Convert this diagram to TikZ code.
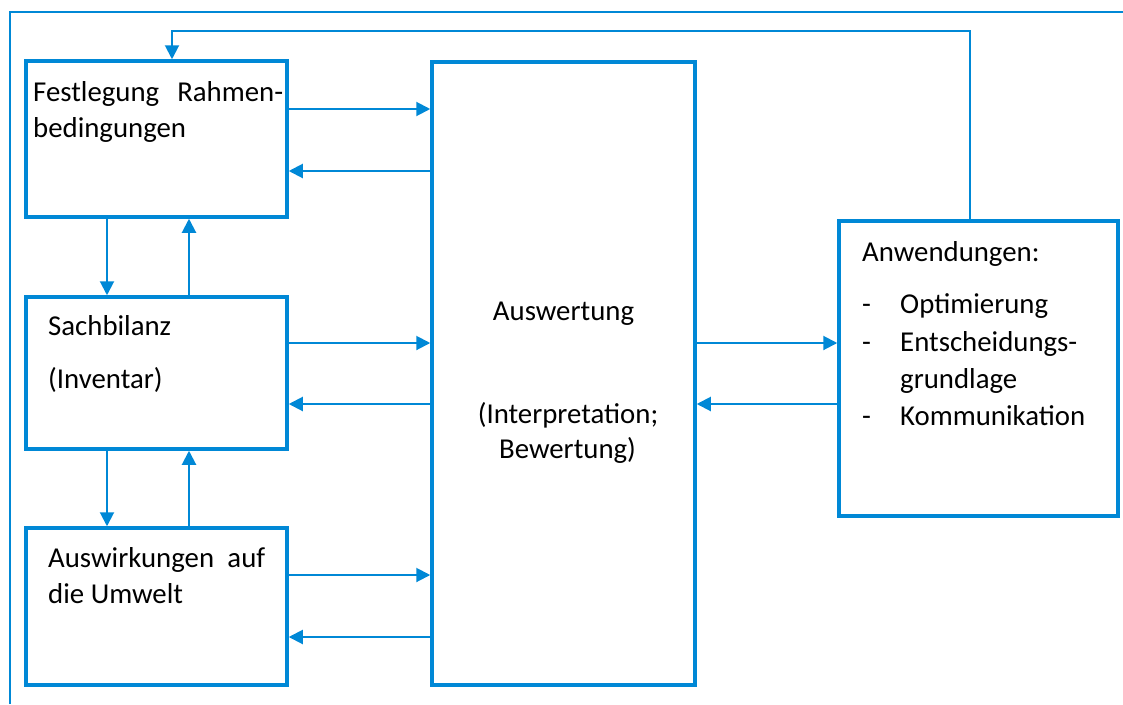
\documentclass[tikz,border=0pt]{standalone}
\usepackage{fontspec}
\setmainfont{Carlito}
\usetikzlibrary{arrows.meta}
\definecolor{lcablue}{RGB}{0,136,214}
\tikzset{
  box/.style={draw=lcablue, line width=3.5pt, fill=white, inner sep=0pt},
  conn/.style={draw=lcablue, line width=2pt},
  arr/.style={conn, -{Triangle[length=14pt,width=14pt]}},
  lbl/.style={inner sep=0pt, anchor=base west, font=\fontsize{28.8}{36}\selectfont},
  clbl/.style={lbl, anchor=base},
}
\begin{document}
\begin{tikzpicture}[x=1pt,y=-1pt]
\useasboundingbox (0,0) rectangle (1123,704);

% outer frame (only its left and top sides lie on the page)
\coordinate (fbl) at (10,704);
\coordinate (ftl) at (10,12);
\coordinate (ftr) at (1123,12);
\draw[conn] (fbl) -- (ftl) -- (ftr);

% boxes
\node[box, minimum width=261pt, minimum height=156pt] (rahmen) at (156.5,139) {};
\node[box, minimum width=261pt, minimum height=152pt] (sach) at (156.5,373) {};
\node[box, minimum width=261pt, minimum height=157pt] (wirk) at (156.5,606.5) {};
\node[box, minimum width=263pt, minimum height=623pt] (ausw) at (563.5,373.5) {};
\node[box, minimum width=279pt, minimum height=295pt] (anw) at (978.5,368.5) {};

% texts
\node[lbl] (t1a) at (33,101) {\makebox[250pt][s]{Festlegung Rahmen-}};
\node[lbl] (t1b) at (33,137) {bedingungen};
\node[lbl] (t2a) at (48,335) {Sachbilanz};
\node[lbl] (t2b) at (48,388) {(Inventar)};
\node[lbl] (t3a) at (48,567) {\makebox[217pt][s]{Auswirkungen auf}};
\node[lbl] (t3b) at (48,603) {die Umwelt};
\node[clbl] (t4a) at (563.5,320) {Auswertung};
\node[clbl] (t4b) at (568,423) {(Interpretation;};
\node[clbl] (t4c) at (567.5,458) {Bewertung)};
\node[lbl] (t5a) at (862,261) {Anwendungen:};
\node[lbl] (d1) at (862,313) {-};
\node[lbl] (t5b) at (900,313) {Optimierung};
\node[lbl] (d2) at (862,351) {-};
\node[lbl] (t5c) at (900,351) {Entscheidungs-};
\node[lbl] (t5d) at (900,388) {grundlage};
\node[lbl] (d3) at (862,425) {-};
\node[lbl] (t5e) at (900,425) {Kommunikation};

% heights of the horizontal connectors
\coordinate (h1) at (0,109);
\coordinate (h2) at (0,171);
\coordinate (h3) at (0,343);
\coordinate (h4) at (0,404);
\coordinate (h5) at (0,575);
\coordinate (h6) at (0,637);
% columns of the vertical connectors
\coordinate (vd) at (107,0);
\coordinate (vu) at (189,0);

% left boxes <-> evaluation
\draw[arr] (rahmen.east |- h1) -- (ausw.west |- h1);
\draw[arr] (ausw.west |- h2) -- (rahmen.east |- h2);
\draw[arr] (sach.east |- h3) -- (ausw.west |- h3);
\draw[arr] (ausw.west |- h4) -- (sach.east |- h4);
\draw[arr] (wirk.east |- h5) -- (ausw.west |- h5);
\draw[arr] (ausw.west |- h6) -- (wirk.east |- h6);

% evaluation <-> applications
\draw[arr] (ausw.east |- h3) -- (anw.west |- h3);
\draw[arr] (anw.west |- h4) -- (ausw.east |- h4);

% vertical links between the left boxes
\draw[arr] (rahmen.south -| vd) -- (sach.north -| vd);
\draw[arr] (sach.north -| vu) -- (rahmen.south -| vu);
\draw[arr] (sach.south -| vd) -- (wirk.north -| vd);
\draw[arr] (wirk.north -| vu) -- (sach.south -| vu);

% feedback from applications to the framework definition
\coordinate (fr) at (970,31);
\coordinate (fl) at (172,31);
\draw[arr] (anw.north -| fr) -- (fr) -- (fl) -- (rahmen.north -| fl);
\end{tikzpicture}
\end{document}
